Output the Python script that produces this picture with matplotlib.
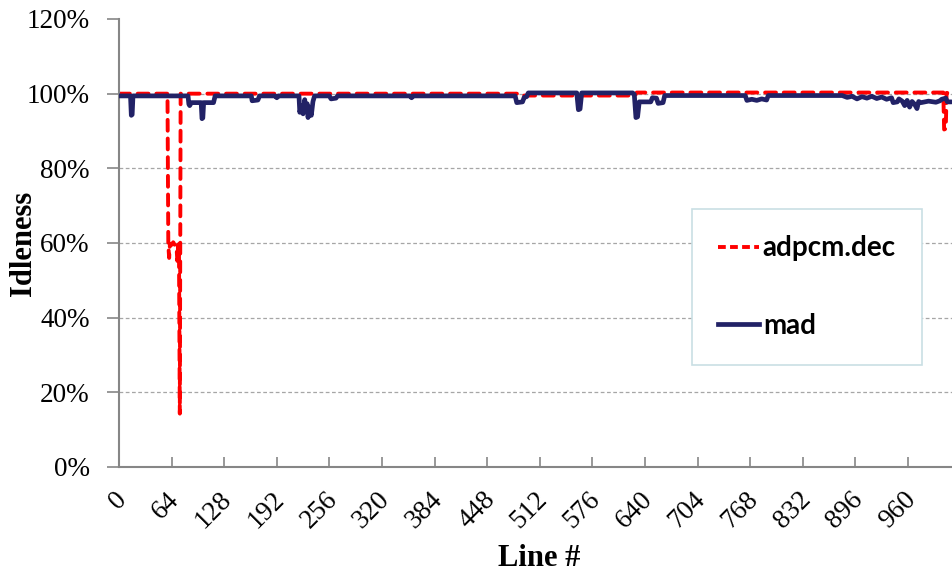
import matplotlib
matplotlib.use("Agg")
import matplotlib.pyplot as plt
import matplotlib.transforms as mtransforms
from matplotlib.lines import Line2D

# idleness per line, stored as the turning points of each trace (line #, %)
adpcm_x = [0, 59, 60, 61, 62, 64, 66, 68, 70, 71, 72, 73, 74, 75,
           486, 488, 490, 628, 630, 1003, 1004, 1006, 1007, 1013]
adpcm_y = [100.0, 100.0, 59.5, 56.0, 59.8, 59.5, 60.2, 59.4, 58.8, 55.2, 59.6, 57.0, 14.3, 100.0,
           100.0, 99.8, 99.5, 99.5, 100.3, 100.3, 90.4, 90.6, 100.2, 100.2]

mad_x = [0, 14, 15, 16, 17, 84, 85, 86, 88, 100, 101, 102, 103, 115, 117,
         161, 162, 169, 171, 190, 192, 194,
         219, 220, 222, 224, 226, 227, 229, 230, 232, 234, 236, 238,
         256, 258, 264, 266, 354, 356, 358,
         482, 484, 491, 493, 496, 498, 557, 559, 561, 563,
         625, 627, 629, 631, 633, 647, 649, 654, 656, 662, 664,
         762, 764, 770, 776, 782, 788, 790,
         880, 886, 892, 898, 904, 910, 916, 922, 928, 934, 940, 942, 947, 949,
         953, 956, 959, 962, 965, 968, 971, 973, 976, 985, 994, 999, 1001, 1006, 1008, 1013]
mad_y = [99.4, 99.4, 94.2, 94.4, 99.4, 99.4, 97.2, 96.8, 97.6, 97.6, 93.3, 93.5, 97.6, 97.6, 99.4,
         99.4, 98.1, 98.3, 99.4, 99.4, 98.9, 99.4,
         99.4, 95.0, 96.8, 94.6, 98.4, 95.4, 97.3, 93.6, 96.2, 94.2, 97.9, 99.4,
         99.4, 98.6, 98.8, 99.4, 99.4, 98.9, 99.4,
         99.4, 97.6, 97.8, 99.0, 99.2, 100.2, 100.2, 95.7, 95.9, 100.2,
         100.2, 99.8, 93.6, 93.8, 97.8, 97.8, 98.9, 98.8, 97.4, 97.6, 99.5,
         99.5, 98.2, 98.5, 98.2, 98.6, 98.3, 99.5,
         99.5, 99.0, 99.3, 98.6, 99.2, 98.8, 99.3, 98.7, 99.1, 98.5, 98.9, 97.6, 97.8, 98.6,
         98.0, 96.8, 98.2, 96.4, 97.9, 97.2, 96.0, 97.9, 97.6, 98.0, 97.7, 98.1, 98.5, 98.8, 97.8, 97.8]

xticks = list(range(0, 1024, 64))
yticks = [0, 20, 40, 60, 80, 100, 120]

RED = "#ff0000"
NAVY = "#222266"
AXIS_GRAY = "#868686"

fig = plt.figure(figsize=(9.53, 5.74), dpi=100)
ax = fig.add_axes([119 / 953, 107 / 574, 834 / 953, 448 / 574])

for v in yticks[1:-1]:
    ax.axhline(v, color="#a6a6a6", lw=0.9, ls=(0, (3, 2)), zorder=0)

ax.plot(adpcm_x, adpcm_y, color=RED, lw=2.8, ls=(0, (2.8, 2.0)),
        dash_capstyle="round", solid_joinstyle="round", zorder=2)
ax.plot(mad_x, mad_y, color=NAVY, lw=3.4, solid_joinstyle="round",
        solid_capstyle="round", zorder=3)

ax.set_xlim(0, 1014.8)
ax.set_ylim(0, 120)

for s in ["top", "right"]:
    ax.spines[s].set_visible(False)
for s in ["left", "bottom"]:
    ax.spines[s].set_color(AXIS_GRAY)
    ax.spines[s].set_linewidth(1.5)

tick_font = dict(family="Liberation Serif", size=19.5)

ax.set_yticks(yticks)
ax.set_yticklabels([f"{v}%" for v in yticks], **tick_font)
ax.tick_params(axis="y", direction="out", length=9, width=1.2, color=AXIS_GRAY, pad=12)

ax.set_xticks(xticks)
ax.set_xticklabels([str(v) for v in xticks], rotation=45, ha="right", va="center",
                   rotation_mode="anchor", **tick_font)
ax.tick_params(axis="x", direction="in", length=7, width=1.2, color=AXIS_GRAY, pad=21)
shift = mtransforms.ScaledTranslation(4 / 100, 0, fig.dpi_scale_trans)
for lab in ax.get_xticklabels():
    lab.set_transform(lab.get_transform() + shift)

label_font = dict(family="Liberation Serif", size=22, weight="bold")
fig.text(539 / 953, 1 - 566 / 574, "Line #", ha="center", va="baseline", **label_font)
fig.text(31.5 / 953, 1 - 243 / 574, "Idleness", rotation=90, rotation_mode="anchor",
         ha="center", va="baseline", **label_font)

handles = [Line2D([], [], color=RED, lw=2.8, ls=(0, (2.0, 1.1))),
           Line2D([], [], color=NAVY, lw=3.4)]
leg = ax.legend(handles, ["adpcm.dec", "mad"], loc="upper left",
                bbox_to_anchor=(692 / 953, 1 - 209 / 574), bbox_transform=fig.transFigure,
                borderaxespad=0, frameon=True, fancybox=False, framealpha=1,
                handlelength=1.45, handletextpad=0.15, borderpad=0.95, labelspacing=1.85,
                prop=dict(family="Lato", weight="bold", size=20))
leg.get_frame().set_edgecolor("#c9dfe4")
leg.get_frame().set_linewidth(1.2)

fig.savefig("out.png", dpi=100, facecolor="white")
